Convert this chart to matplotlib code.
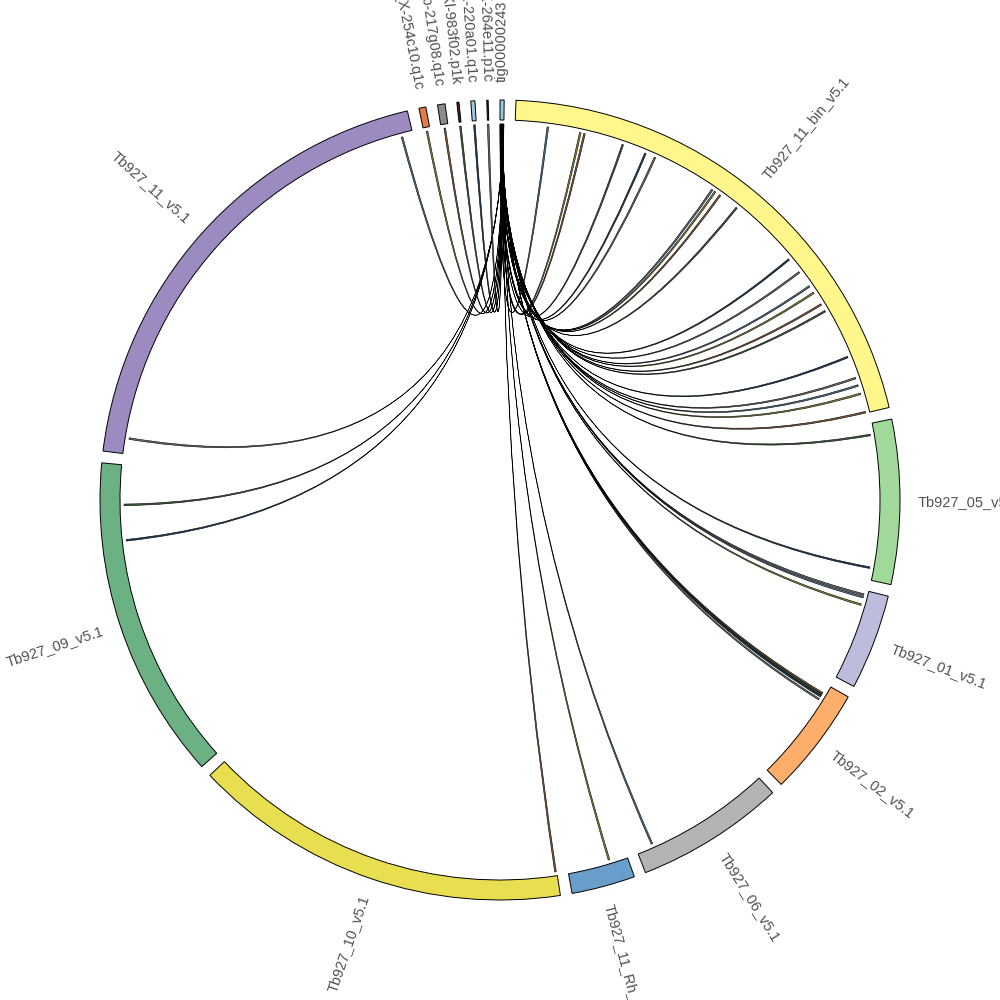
import numpy as np
import matplotlib
matplotlib.use("Agg")
import matplotlib.pyplot as plt
from matplotlib.patches import Wedge, PathPatch
from matplotlib.path import Path

# Segmentos (cromosomas / contigs) en orden horario desde arriba, longitudes en Mb
nombres = ["tig00000243", "Tb927_11_bin_v5.1", "Tb927_05_v5.1", "Tb927_01_v5.1",
           "Tb927_02_v5.1", "Tb927_06_v5.1", "Tb927_11_Rh_v5.1", "Tb927_10_v5.1",
           "Tb927_09_v5.1", "Tb927_11_v5.1", "TbBAC_X-254c10.q1c", "TbBAC_b-217g08.q1c",
           "TbBAC_Kl-983f02.p1k", "TbBAC_K-220a01.q1c", "TbBAC_K-264e11.p1c"]
longitudes = [0.045, 5.63, 1.81, 1.05, 1.20, 1.64, 0.70, 4.18, 3.57, 5.27,
              0.076, 0.083, 0.023, 0.045, 0.015]
colores = ["#9ecae1", "#fff68c", "#a1d99b", "#bcbddc", "#fdae6b", "#b3b3b3",
           "#699ecb", "#e8df50", "#6bb184", "#9b8bc1", "#e37b45", "#8c8c8c",
           "#5a1a1a", "#9ecae1", "#333300"]

# Enlaces: todos salen de tig00000243 hacia (segmento destino, posicion en Mb)
destino = (["Tb927_11_bin_v5.1"] * 21 + ["Tb927_05_v5.1"] * 2 + ["Tb927_01_v5.1"] * 3
           + ["Tb927_02_v5.1"] * 4 + ["Tb927_06_v5.1", "Tb927_11_Rh_v5.1", "Tb927_10_v5.1"]
           + ["Tb927_09_v5.1"] * 2 + ["Tb927_11_v5.1"] * 2
           + ["TbBAC_X-254c10.q1c", "TbBAC_b-217g08.q1c", "TbBAC_Kl-983f02.p1k",
              "TbBAC_K-220a01.q1c", "TbBAC_K-264e11.p1c"])
pos_destino = [0.38, 0.76, 0.81, 1.27, 1.55, 1.67, 2.43, 2.47, 2.54, 2.78, 3.63,
               3.82, 4.02, 4.11, 4.27, 4.36, 4.95, 5.21, 5.30, 5.40, 5.62,
               0.13, 1.67,
               0.05, 0.08, 0.17,
               0.11, 0.13, 0.15, 0.19,
               1.45, 0.21, 0.015,
               3.11, 2.70,
               0.18, 5.14,
               0.038, 0.041, 0.011, 0.022, 0.007]
colores_enlace = ["#4f7590", "#8c8a3c", "#8b5a3c", "#3f5f3f", "#1f3f5f", "#6f6f6f"]

hueco = 1.7
escala = (360 - hueco * len(nombres)) / sum(longitudes)

inicio = {}
a = 0.0
for n, l in zip(nombres, longitudes):
    inicio[n] = a
    a += l * escala + hueco
largo = dict(zip(nombres, longitudes))


def xy(theta, r):
    t = np.radians(theta)
    return np.array([r * np.sin(t), r * np.cos(t)])


def arco(t1, t2, r, n=20):
    return [xy(t, r) for t in np.linspace(t1, t2, n)]


fig = plt.figure(figsize=(10, 10), dpi=100)
ax = fig.add_axes([0, 0, 1, 1])
ax.set_xlim(-1.25, 1.25)
ax.set_ylim(-1.25, 1.25)
ax.set_aspect("equal")
ax.axis("off")

# Anillo
for n, c in zip(nombres, colores):
    t0 = inicio[n]
    t1 = t0 + largo[n] * escala
    ax.add_patch(Wedge((0, 0), 1.0, 90 - t1, 90 - t0, width=0.05,
                       facecolor=c, edgecolor="black", linewidth=0.7))
    tm = (t0 + t1) / 2
    px, py = xy(tm, 1.045)
    phi = 90 - tm
    if tm < 180:
        rot, ha = phi, "left"
    else:
        rot, ha = phi + 180, "right"
    ax.text(px, py, n, rotation=rot, ha=ha, va="center", rotation_mode="anchor",
            fontsize=10.5, color="#505050", family="Liberation Sans")

# Enlaces (cintas bezier por el centro)
r_enl = 0.94
t_tig = inicio["tig00000243"]
w_tig = largo["tig00000243"] * escala
ancho = 0.25
for i, (d, p) in enumerate(zip(destino, pos_destino)):
    a1 = t_tig + w_tig * (i + 0.2) / len(destino)
    a2 = t_tig + w_tig * (i + 0.8) / len(destino)
    b1 = inicio[d] + p * escala - ancho / 2
    b2 = b1 + ancho
    verts, codes = [], []
    pa = arco(a1, a2, r_enl, 4)
    verts += pa
    codes += [Path.MOVETO] + [Path.LINETO] * (len(pa) - 1)
    verts += [np.array([0.0, 0.0]), xy(b1, r_enl)]
    codes += [Path.CURVE3, Path.CURVE3]
    pb = arco(b1, b2, r_enl, 4)[1:]
    verts += pb
    codes += [Path.LINETO] * len(pb)
    verts += [np.array([0.0, 0.0]), xy(a1, r_enl)]
    codes += [Path.CURVE3, Path.CURVE3]
    ax.add_patch(PathPatch(Path(verts, codes),
                           facecolor=colores_enlace[i % len(colores_enlace)],
                           edgecolor="black", linewidth=0.4))

fig.savefig("out.png", dpi=100)
